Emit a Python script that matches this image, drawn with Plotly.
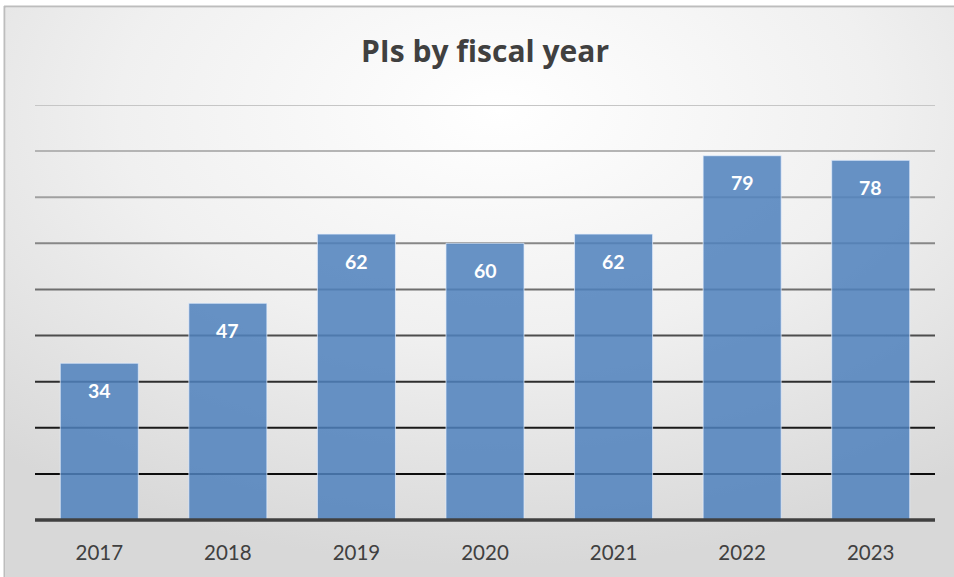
import plotly.graph_objects as go

# Data
years = ["2017", "2018", "2019", "2020", "2021", "2022", "2023"]
pis = [34, 47, 62, 60, 62, 79, 78]
grid_values = [10, 20, 30, 40, 50, 60, 70, 80, 90]
grid_colors = ["#0d0d0d", "#1a1a1a", "#2e2e2e", "#4d4d4d", "#6e6e6e",
               "#878787", "#a0a0a0", "#b4b4b4", "#c6c6c6"]

W, H = 954, 577
L, R, T, B = 35, 19, 105, 57
plot_w = W - L - R
plot_h = H - T - B


def px_x(px):
    return (px - L) / plot_w


def px_y(py):
    return (H - B - py) / plot_h


# Soft radial background of the chart area
bg_svg = (
    "data:image/svg+xml;utf8,"
    "<svg xmlns='http://www.w3.org/2000/svg' width='949' height='571' preserveAspectRatio='none'>"
    "<defs><radialGradient id='g' cx='52%' cy='18%' r='80%' fx='52%' fy='18%'>"
    "<stop offset='0' stop-color='%23ffffff'/>"
    "<stop offset='0.5' stop-color='%23f0f0f0'/>"
    "<stop offset='1' stop-color='%23d8d8d8'/>"
    "</radialGradient></defs>"
    "<rect width='949' height='571' fill='url(%23g)'/></svg>"
)

fig = go.Figure()
fig.add_trace(go.Bar(
    x=years,
    y=pis,
    marker=dict(color="rgba(79,129,189,0.86)",
                line=dict(color="rgba(230,240,255,0.7)", width=1)),
    width=0.607,
    hoverinfo="x+y",
))

shapes = []
for v, c in zip(grid_values, grid_colors):
    shapes.append(dict(type="line", xref="paper", yref="y", x0=0, x1=1, y0=v, y1=v,
                       line=dict(color=c, width=2), layer="below"))
# category axis baseline
shapes.append(dict(type="line", xref="paper", yref="paper", x0=0, x1=1, y0=0, y1=0,
                   line=dict(color="#404040", width=3.5), layer="above"))
# chart frame (left and top edges)
shapes.append(dict(type="line", xref="paper", yref="paper",
                   x0=px_x(4.5), x1=px_x(4.5), y0=px_y(6), y1=px_y(H),
                   line=dict(color="#bdbdbd", width=2), layer="below"))
shapes.append(dict(type="line", xref="paper", yref="paper",
                   x0=px_x(4), x1=px_x(W), y0=px_y(6.5), y1=px_y(6.5),
                   line=dict(color="#bdbdbd", width=2), layer="below"))

annotations = [
    dict(text="<b>PIs by fiscal year</b>", xref="paper", yref="paper",
         x=0.5, y=px_y(51), xanchor="center", yanchor="middle", showarrow=False,
         font=dict(family="Open Sans", size=30, color="#404040")),
]
# value labels, placed by category index on the category axis
for i, v in enumerate(pis):
    annotations.append(dict(text=f"<b>{v}</b>", x=i, y=v, xref="x", yref="y",
                            yshift=-27, showarrow=False, yanchor="middle",
                            font=dict(family="Lato", size=19.5, color="white")))

fig.update_layout(
    width=W, height=H,
    margin=dict(l=L, r=R, t=T, b=B, pad=0),
    paper_bgcolor="white",
    plot_bgcolor="rgba(0,0,0,0)",
    showlegend=False,
    bargap=0.393,
    shapes=shapes,
    annotations=annotations,
    images=[dict(source=bg_svg, xref="paper", yref="paper",
                 x=px_x(5.5), y=px_y(7.5), sizex=(W - 5.5) / plot_w,
                 sizey=(H - 7.5) / plot_h, sizing="stretch",
                 xanchor="left", yanchor="top", layer="below")],
    xaxis=dict(type="category", categoryorder="array", categoryarray=years,
               range=[-0.5, len(years) - 0.5],
               showgrid=False, zeroline=False, showline=False,
               ticks="", tickfont=dict(family="Lato", size=20.5, color="#404040"),
               ticklabelstandoff=18, fixedrange=True),
    yaxis=dict(range=[0, 90], showgrid=False, zeroline=False, showline=False,
               showticklabels=False, ticks="", fixedrange=True),
)

fig.write_html("out.html")
